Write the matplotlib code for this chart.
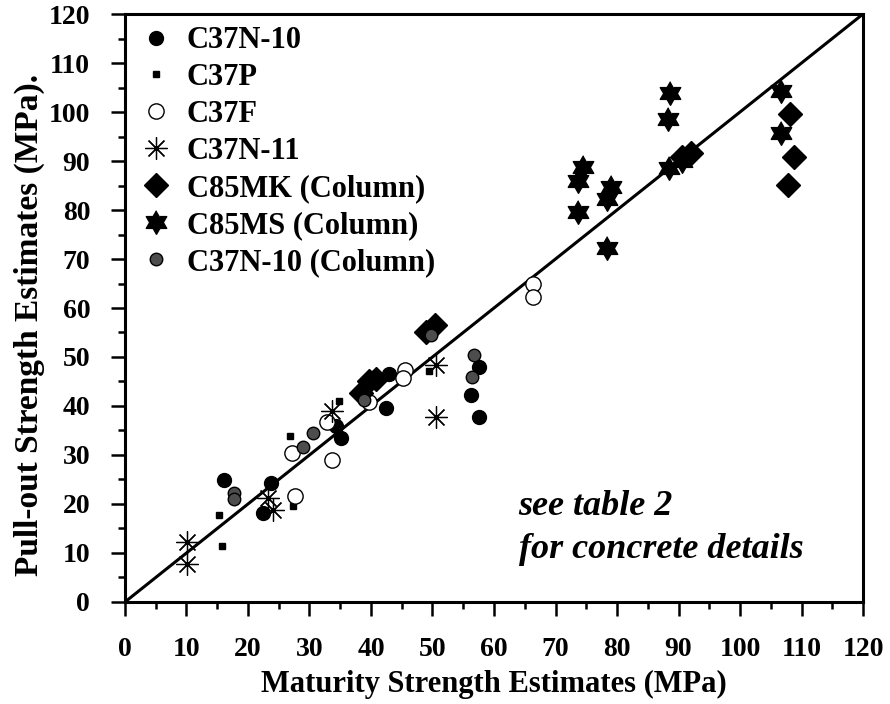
import matplotlib
matplotlib.use('Agg')
import matplotlib.pyplot as plt
from matplotlib.ticker import MultipleLocator
import numpy as np

plt.rcParams['font.family'] = 'Liberation Serif'
plt.rcParams['font.weight'] = 'bold'
plt.rcParams['axes.labelweight'] = 'bold'

# axis range (also used for the 1:1 line)
lim = [0, 120]

# --- data (MPa) ---
c37n10_x = [16.1, 23.7, 22.5, 34.3, 35.1, 42.9, 42.5, 57.5, 56.3, 57.5]
c37n10_y = [24.8, 24.3, 18.1, 36.0, 33.4, 46.5, 39.6, 48.0, 42.3, 37.8]

c37p_x = [15.3, 15.7, 27.4, 26.8, 34.8, 49.5]
c37p_y = [17.8, 11.5, 19.6, 33.8, 41.1, 47.2]

c37f_x = [27.7, 27.1, 33.6, 32.9, 39.6, 45.5, 45.2, 66.3, 66.3]
c37f_y = [21.7, 30.5, 29.0, 36.8, 40.8, 47.4, 45.7, 65.0, 62.3]

c37n11_x = [10.1, 10.1, 23.2, 24.0, 33.6, 50.6, 50.6]
c37n11_y = [12.3, 7.8, 21.2, 18.7, 39.0, 48.4, 37.8]

c85mk_x = [38.4, 39.7, 40.8, 48.9, 50.4, 90.5, 92.1, 108.2, 108.7, 107.8]
c85mk_y = [42.6, 45.0, 45.6, 55.2, 56.6, 90.8, 91.6, 99.5, 90.8, 85.1]

c85ms_x = [88.6, 88.3, 74.4, 73.6, 73.6, 79.0, 78.3, 78.4, 88.5, 90.5, 106.7, 106.6]
c85ms_y = [103.9, 98.5, 88.8, 86.0, 79.5, 84.7, 82.2, 72.3, 88.5, 90.0, 104.2, 95.8]

c37n10col_x = [17.7, 17.7, 28.9, 30.5, 38.9, 49.8, 56.7, 56.4]
c37n10col_y = [22.2, 21.0, 31.7, 34.4, 41.3, 54.5, 50.5, 46.0]

# six-pointed star (hexagram) marker
ang = np.deg2rad(90 + 30 * np.arange(12))
rad = np.where(np.arange(12) % 2 == 0, 1.0, 0.577)
hexagram = list(zip(rad * np.cos(ang), rad * np.sin(ang)))

fig = plt.figure(figsize=(8.9, 7.04), dpi=100)
ax = fig.add_axes([0.1404, 0.1449, 0.8293, 0.8352])

ax.plot(lim, lim, color='black', lw=2.2, zorder=1)

ax.plot(c37n10_x, c37n10_y, 'o', ms=10, color='black', ls='none', label='C37N-10')
ax.plot(c37p_x, c37p_y, 's', ms=5, color='black', ls='none', label='C37P')
ax.plot(c37f_x, c37f_y, 'o', ms=11, mfc='white', mec='black', mew=1.0, ls='none', label='C37F')
ax.plot(c37n11_x, c37n11_y, marker=(8, 2, 0), ms=16, color='black', mew=0.9, ls='none', label='C37N-11')
ax.plot(c85mk_x, c85mk_y, 'D', ms=12, color='black', ls='none', label='C85MK (Column)')
ax.plot(c85ms_x, c85ms_y, marker=hexagram, ms=17, color='black', ls='none', label='C85MS (Column)')
ax.plot(c37n10col_x, c37n10col_y, 'o', ms=9, mfc='0.3', mec='black', mew=1.0, ls='none',
        label='C37N-10 (Column)')

ax.set_xlim(lim)
ax.set_ylim(lim)
ax.xaxis.set_major_locator(MultipleLocator(10))
ax.yaxis.set_major_locator(MultipleLocator(10))
ax.xaxis.set_minor_locator(MultipleLocator(5))
ax.yaxis.set_minor_locator(MultipleLocator(5))
ax.tick_params(which='major', direction='out', length=10, width=1.8, labelsize=20)
ax.tick_params(which='minor', direction='out', length=5, width=1.8)
ax.tick_params(axis='x', which='major', pad=15)
ax.tick_params(axis='y', which='major', pad=15)
for s in ax.spines.values():
    s.set_linewidth(2.2)

ax.set_xlabel('Maturity Strength Estimates (MPa)', fontsize=22, labelpad=6)
ax.set_ylabel('Pull-out Strength Estimates (MPa).', fontsize=24)
ax.yaxis.set_label_coords(-0.108, 0.471)

ax.legend(loc='upper left', bbox_to_anchor=(0.005, 1.0), frameon=False, fontsize=22,
          handlelength=1.0, handletextpad=0.5, labelspacing=0.26, borderpad=0.4,
          borderaxespad=0)

ax.text(64, 19.4, 'see table 2', fontsize=26, style='italic', va='center', ha='left')
ax.text(64, 10.8, 'for concrete details', fontsize=26, style='italic', va='center', ha='left')

fig.savefig('out.png', dpi=100)
